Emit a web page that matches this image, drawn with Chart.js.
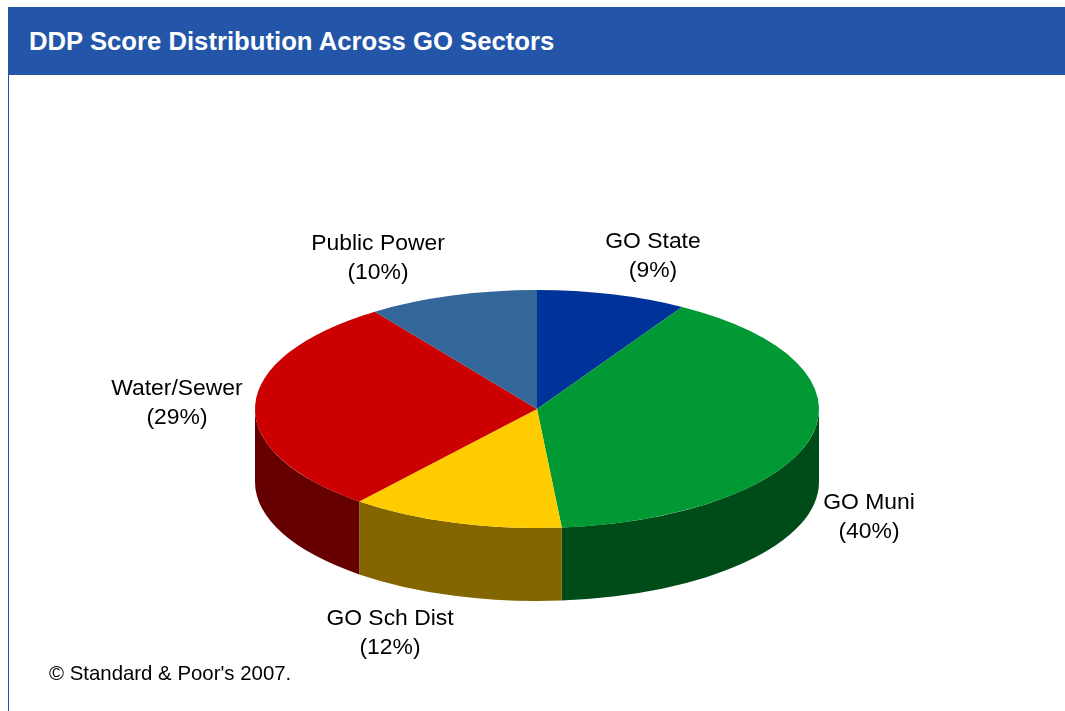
<!DOCTYPE html>
<html>
<head>
<meta charset="utf-8">
<title>DDP Score Distribution Across GO Sectors</title>
<script src="https://cdn.jsdelivr.net/npm/chart.js@4"></script>
<style>
    html, body { margin: 0; padding: 0; background: #fff; overflow: hidden; }
    #page { position: relative; width: 1065px; height: 711px; }
    #frame { position: absolute; left: 8px; top: 7px; bottom: 0; width: 1px; background: #1a4fb5; }
    #header {
        position: absolute; left: 8px; top: 7px; right: 0; height: 68px; line-height: 68px;
        background: #2355a8; color: #fff; padding-left: 21px;
        font: bold 25.7px/68px "Liberation Sans", Arial, sans-serif;
    }
    #chart { position: absolute; left: 0; top: 0; }
    #source {
        position: absolute; left: 49px; top: 661px; color: #000;
        font: 20.4px/24px "Liberation Sans", Arial, sans-serif;
    }
</style>
</head>
<body>
<div id="page">
    <div id="frame"></div>
    <div id="header">DDP Score Distribution Across GO Sectors</div>
    <canvas id="chart" width="1065" height="711"></canvas>
    <div id="source">© Standard &amp; Poor's 2007.</div>
</div>
<script>
// Data
const categories = ['GO State', 'GO Muni', 'GO Sch Dist', 'Water/Sewer', 'Public Power'];
const shares = [8.6, 40.0, 12.25, 29.4, 9.75];
const topColors = ['#003399', '#009933', '#ffcc00', '#cc0000', '#336699'];
const wallColors = ['#001a4d', '#004c19', '#836600', '#660000', '#1a334d'];

// Where each label's two lines are centred
const labelX = [653, 869, 390, 177, 378];
const labelY = [242, 503, 619, 389, 244];
const labelLineHeight = 29;

// Look of the tilted pie
const tilt = 119 / 282;
const depth = 73;

function wallRange(start, end) {
    // Only the part of a slice facing the viewer has a wall (canvas angles 0..PI)
    for (const shift of [0, Math.PI * 2]) {
        const from = Math.max(start, shift);
        const to = Math.min(end, shift + Math.PI);
        if (to > from) return [from, to];
    }
    return null;
}

const tiltedPie = {
    id: 'tiltedPie',
    beforeDatasetsDraw(chart) {
        const ctx = chart.ctx;
        const arcs = chart.getDatasetMeta(0).data;
        const cx = arcs[0].x;
        const cy = arcs[0].y;
        const rx = arcs[0].outerRadius;
        const ry = rx * tilt;

        arcs.forEach((arc, i) => {
            const range = wallRange(arc.startAngle, arc.endAngle);
            if (!range) return;
            ctx.beginPath();
            ctx.ellipse(cx, cy, rx, ry, 0, range[0], range[1]);
            ctx.ellipse(cx, cy + depth, rx, ry, 0, range[1], range[0], true);
            ctx.closePath();
            ctx.fillStyle = wallColors[i];
            ctx.fill();
        });

        // The library draws the slices inside this squashed space
        ctx.save();
        ctx.translate(cx, cy);
        ctx.scale(1, tilt);
        ctx.translate(-cx, -cy);
    },
    afterDatasetsDraw(chart) {
        const ctx = chart.ctx;
        ctx.restore();

        ctx.save();
        ctx.fillStyle = '#000';
        ctx.font = '22.9px "Liberation Sans", Arial, sans-serif';
        ctx.textAlign = 'center';
        ctx.textBaseline = 'middle';
        chart.data.labels.forEach((label, i) => {
            const pct = Math.round(chart.data.datasets[0].data[i]);
            ctx.fillText(label, labelX[i], labelY[i]);
            ctx.fillText('(' + pct + '%)', labelX[i], labelY[i] + labelLineHeight);
        });
        ctx.restore();
    }
};

new Chart(document.getElementById('chart'), {
    type: 'pie',
    data: {
        labels: categories,
        datasets: [{
            data: shares,
            backgroundColor: topColors,
            borderWidth: 0
        }]
    },
    options: {
        responsive: false,
        animation: false,
        layout: { padding: { left: 255, right: 246, top: 127, bottom: 20 } },
        plugins: {
            legend: { display: false },
            tooltip: { enabled: false }
        }
    },
    plugins: [tiltedPie]
});
</script>
</body>
</html>
